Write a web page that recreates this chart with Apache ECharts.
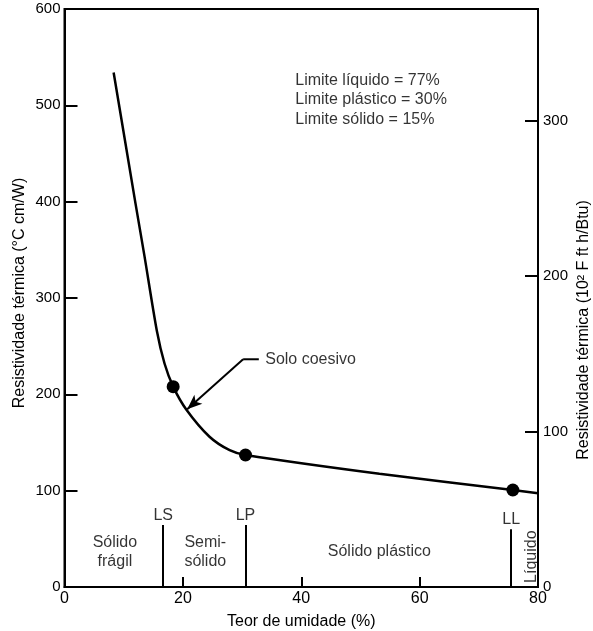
<!DOCTYPE html>
<html>
<head>
<meta charset="utf-8">
<script src="https://cdn.jsdelivr.net/npm/echarts@6/dist/echarts.min.js"></script>
<style>
  html, body { margin: 0; padding: 0; background: #fff; }
  #chart { width: 593px; height: 631px; }
</style>
</head>
<body>
<div id="chart"></div>
<script>
// ---- data ----
const curveX = [8.3, 12.0, 13.5, 15.6, 16.9, 18.36, 20.6, 24.5, 27.9, 30.58, 53.2, 75.75, 80];
const curveY = [534, 398, 344, 266, 232, 208, 184, 156, 142, 137, 117.5, 100.7, 97.3];
const dotX = [18.36, 30.58, 75.75];
const dotY = [208, 137, 100.7];
const limitNames = ['LS', 'LP', 'LL'];
const limitX = [16.68, 30.58, 75.48];
const limitTop = [64.4, 64.4, 59.9];
const zoneNames = ['Sólido\nfrágil', 'Semi-\nsólido', 'Sólido plástico', 'Líquido'];
const zoneX = [8.52, 20.17, 53.2, 78.85];
const zoneY = [36.3, 36.3, 36.3, 31.5];
const limitTexts = ['Limite líquido = 77%', 'Limite plástico = 30%', 'Limite sólido = 15%'];
const limitTextX = 38.9;
const limitTextY = [525.6, 505.7, 485.5];
const arrowLabel = 'Solo coesivo';
const arrowPath = [[32.83, 236.4], [30.18, 236.4], [20.73, 184.5]];
const xTicks = [0, 20, 40, 60, 80];
const yLeftTicks = [0, 100, 200, 300, 400, 500, 600];
const yRightTicks = [0, 100, 200, 300];
const yRightMax = 372;

const FONT = '"Liberation Sans", Arial, Helvetica, sans-serif';
const INK = '#000';

const chart = echarts.init(document.getElementById('chart'), null, { renderer: 'canvas' });

const txt = (size) => ({ fontFamily: FONT, fontSize: size, color: INK });

const option = {
  animation: false,
  backgroundColor: '#fff',
  grid: { left: 64.5, right: 55, top: 9, bottom: 44, outerBoundsMode: 'none', containLabel: false,
    show: true, borderColor: INK, borderWidth: 2, backgroundColor: 'transparent' },
  xAxis: {
    type: 'value', min: 0, max: 80, interval: 20,
    name: 'Teor de umidade (%)', nameLocation: 'middle', nameGap: 27,
    nameTextStyle: txt(16),
    axisLine: { show: true, lineStyle: { color: INK, width: 2 } },
    axisTick: { show: true, inside: true, length: 10, lineStyle: { color: INK, width: 2 },
      customValues: xTicks.slice(1, -1) },
    axisLabel: { ...txt(16), margin: 4, customValues: xTicks },
    splitLine: { show: false }
  },
  yAxis: [
    {
      type: 'value', min: 0, max: 600, interval: 100,
      axisLine: { show: true, lineStyle: { color: INK, width: 2 } },
      axisTick: { show: true, inside: true, length: 13, lineStyle: { color: INK, width: 2 } },
      axisLabel: { ...txt(15), margin: 4, formatter: (v) => yLeftTicks.includes(v) ? String(v) : '' },
      splitLine: { show: false }
    },
    {
      type: 'value', min: 0, max: yRightMax, interval: 100, position: 'right',
      axisLine: { show: true, lineStyle: { color: INK, width: 2 } },
      axisTick: { show: true, inside: true, length: 13, lineStyle: { color: INK, width: 2 },
        customValues: yRightTicks.slice(1) },
      axisLabel: { ...txt(15), margin: 5, customValues: yRightTicks },
      splitLine: { show: false }
    }
  ],
  graphic: [
    { type: 'text', x: 20, y: 293, rotation: Math.PI / 2,
      style: { text: 'Resistividade térmica (°C cm/W)', font: '16px ' + FONT, fill: INK, textAlign: 'center', textVerticalAlign: 'middle' } },
    { type: 'text', x: 584, y: 330, rotation: Math.PI / 2,
      style: { text: 'Resistividade térmica (10² F ft h/Btu)', font: '16px ' + FONT, fill: INK, textAlign: 'center', textVerticalAlign: 'middle' } }
  ],
  series: [
    {
      name: 'curve', type: 'line', smooth: 0.25, symbol: 'none',
      lineStyle: { color: INK, width: 2.5 },
      data: curveX.map((x, i) => [x, curveY[i]]),
      z: 3
    },
    {
      name: 'dots', type: 'scatter', symbol: 'circle', symbolSize: 13,
      itemStyle: { color: INK, opacity: 1 },
      data: dotX.map((x, i) => [x, dotY[i]]),
      z: 4
    },
    {
      name: 'limits', type: 'line', symbol: 'none', data: [],
      markLine: {
        silent: true, symbol: ['none', 'none'], animation: false,
        lineStyle: { color: INK, width: 2, type: 'solid' },
        label: { show: false },
        data: limitX.map((x, i) => [{ coord: [x, 0] }, { coord: [x, limitTop[i]] }])
      }
    },
    {
      name: 'limitLabels', type: 'scatter', symbolSize: 1, itemStyle: { color: 'rgba(0,0,0,0)' },
      label: { show: true, position: 'top', distance: 1, ...txt(16), formatter: (p) => p.name },
      data: limitNames.map((n, i) => ({ name: n, value: [limitX[i], limitTop[i]] }))
    },
    {
      name: 'zones', type: 'scatter', symbolSize: 1, itemStyle: { color: 'rgba(0,0,0,0)' },
      label: { show: true, position: 'inside', ...txt(16), lineHeight: 19, formatter: (p) => p.name },
      data: zoneNames.map((n, i) => {
        const d = { name: n, value: [zoneX[i], zoneY[i]] };
        if (i === 1) d.label = { position: 'right', distance: 0, align: 'left' };
        if (i === 3) d.label = { rotate: 90 };
        return d;
      })
    },
    {
      name: 'limitsText', type: 'scatter', symbolSize: 1, itemStyle: { color: 'rgba(0,0,0,0)' },
      label: { show: true, position: 'right', distance: 0, ...txt(16), formatter: (p) => p.name },
      data: limitTexts.map((t, i) => ({ name: t, value: [limitTextX, limitTextY[i]] }))
    },
    {
      name: 'arrowLeader', type: 'line', symbol: 'none',
      lineStyle: { color: INK, width: 2 },
      data: arrowPath.slice(0, 2),
      markLine: {
        silent: true, symbol: ['none', 'arrow'], symbolSize: [9, 15], animation: false,
        lineStyle: { color: INK, width: 2, type: 'solid' },
        label: { show: false },
        data: [[{ coord: arrowPath[1] }, { coord: arrowPath[2] }]]
      }
    },
    {
      name: 'arrowLabel', type: 'scatter', symbolSize: 1, itemStyle: { color: 'rgba(0,0,0,0)' },
      label: { show: true, position: 'right', distance: 0, ...txt(16), formatter: (p) => p.name },
      data: [{ name: arrowLabel, value: [arrowPath[0][0] + 1.0, arrowPath[0][1]] }]
    }
  ]
};

chart.setOption(option);
</script>
</body>
</html>
